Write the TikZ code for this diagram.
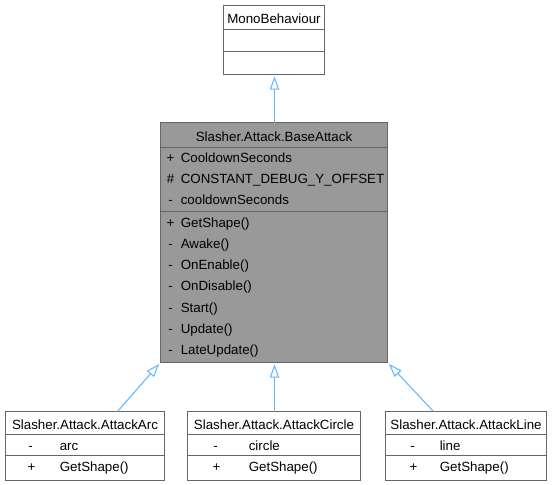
\documentclass[tikz,border=0pt]{standalone}
\usepackage{fontspec}
\setmainfont{Liberation Sans}
\usetikzlibrary{arrows.meta, fit, positioning}

\definecolor{boxborder}{HTML}{666666}
\definecolor{boxfill}{HTML}{999999}
\definecolor{inheritblue}{HTML}{63B8FF}

\begin{document}
\begin{tikzpicture}[x=0.75pt, y=-0.75pt,
        classbox/.style={draw=boxborder, line width=0.75pt, inner sep=0pt},
        classline/.style={draw=boxborder, line width=0.75pt},
        label/.style={inner sep=0pt, anchor=base},
        member/.style={inner sep=0pt, anchor=base west},
        inheritline/.style={draw=inheritblue, line width=0.8pt,
            -{Triangle[open, length=10pt, width=7pt]}, shorten >=1pt}]
    \useasboundingbox (0,0) rectangle (553,485);
    \begin{scope}[shift={(0.5,0.5)}]

    % 1. MonoBehaviour
    \node[classbox, fit={(223,5) (324,74)}] (mono) {};
    \draw[classline] (223,29) -- (324,29);
    \draw[classline] (223,51) -- (324,51);
    \node[label] (monoTitle) at (273.5,22.7) {MonoBehaviour};

    % 2. BaseAttack
    \node[classbox, fill=boxfill, fit={(160,122) (387,362)}] (base) {};
    \draw[classline] (160,147) -- (387,147);
    \draw[classline] (160,211) -- (387,211);
    \node[label] (baseTitle) at (273.5,140.5) {Slasher.Attack.BaseAttack};
    \node[label] (as1) at (170,162) {+};
    \node[member] (a1) at (180,162) {CooldownSeconds};
    \node[label] (as2) at (170,183) {\#};
    \node[member] (a2) at (180,183) {CONSTANT\_DEBUG\_Y\_OFFSET};
    \node[label] (as3) at (170,203.5) {-};
    \node[member] (a3) at (180,203.5) {cooldownSeconds};
    \foreach \s/\m [count=\i] in {+/GetShape(), -/Awake(), -/OnEnable(),
            -/OnDisable(), -/Start(), -/Update(), -/LateUpdate()} {
        \node[label] (ms\i) at (170,{226.5+21.25*(\i-1)}) {\s};
        \node[member] (m\i) at (180,{226.5+21.25*(\i-1)}) {\m};
    }

    % 3. derived classes
    \foreach \nm/\attr/\xl/\xr/\xs/\xn in {Arc/arc/5/164/30/59,
            Circle/circle/187/360/215/248, Line/line/385/546/412/439} {
        \node[classbox, fit={(\xl,411) (\xr,480)}] (attack\nm) {};
        \draw[classline] (\xl,434) -- (\xr,434);
        \draw[classline] (\xl,455) -- (\xr,455);
        \node[label] (title\nm) at ({(\xl+\xr)/2},429) {Slasher.Attack.Attack\nm};
        \node[label] (as\nm) at (\xs,450) {-};
        \node[member] (attr\nm) at (\xn,450) {\attr};
        \node[label] (ms\nm) at (\xs+1,471) {+};
        \node[member] (get\nm) at (\xn,471) {GetShape()};
    }

    % 4. inheritance
    \coordinate (baseTop) at (274,122);
    \coordinate (circleTop) at (274,411);
    \coordinate (arcTop) at (117,411);
    \coordinate (lineTop) at (433,411);
    \draw[inheritline] (baseTop) -- (baseTop |- mono.south);
    \draw[inheritline] (arcTop) -- (base.south west);
    \draw[inheritline] (circleTop) -- (circleTop |- base.south);
    \draw[inheritline] (lineTop) -- (base.south east);
    \end{scope}
\end{tikzpicture}
\end{document}
